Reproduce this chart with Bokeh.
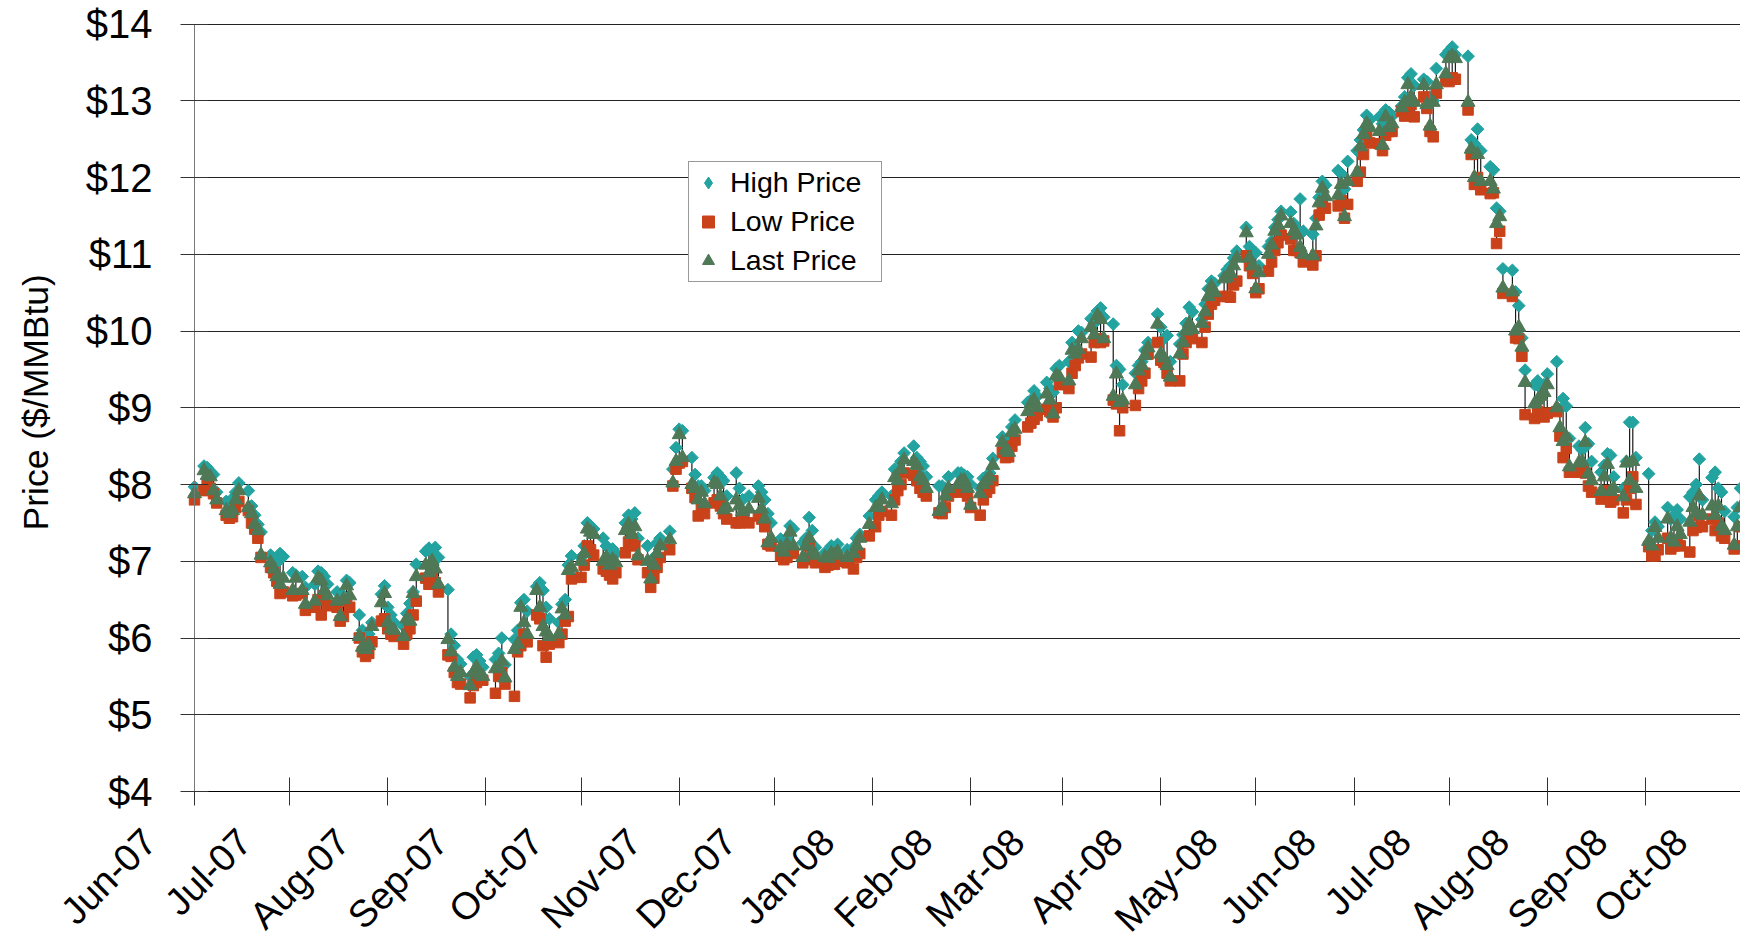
import math
import pandas as pd
from bokeh.plotting import figure
from bokeh.models import (Range1d, FixedTicker, PrintfTickFormatter, DatetimeTickFormatter,
                          Legend, LegendItem, ColumnDataSource, Title, Grid)
from bokeh.embed import file_html
from bokeh.resources import INLINE

# ---------------- data ----------------
holidays = ["2007-07-04", "2007-09-03", "2007-11-22", "2007-12-25", "2008-01-01", "2008-01-21",
            "2008-02-18", "2008-03-21", "2008-05-26", "2008-07-04", "2008-09-01"]
first_day = "2007-06-01"
last_day = "2008-10-01"
month_labels = ["Jun-07", "Jul-07", "Aug-07", "Sep-07", "Oct-07", "Nov-07", "Dec-07", "Jan-08", "Feb-08",
                "Mar-08", "Apr-08", "May-08", "Jun-08", "Jul-08", "Aug-08", "Sep-08", "Oct-08"]
price_ticks = [4, 5, 6, 7, 8, 9, 10, 11, 12, 13, 14]

high_price = [
    # Jun 2007
    7.97, 8.24, 8.22, 8.17, 8.13, 7.90, 7.78, 7.76, 7.82, 7.90, 8.02, 7.92, 7.72, 7.60, 7.48, 7.38, 7.08, 7.04, 6.98, 7.10, 7.06,
    # Jul 2007
    6.85, 6.82, 6.80, 6.66, 6.70, 6.87, 6.85, 6.80, 6.70, 6.60, 6.45, 6.55, 6.75, 6.72, 6.30, 6.10, 5.98, 6.05, 6.20, 6.57, 6.68,
    # Aug 2007
    6.40, 6.30, 6.20, 6.15, 6.32, 6.45, 6.60, 6.96, 7.13, 7.17, 7.12, 7.18, 7.05, 6.63, 6.05, 5.90, 5.72, 5.66, 5.50, 5.75, 5.78, 5.70, 5.62,
    # Sep 2007
    5.72, 5.80, 6.00, 5.65, 5.98, 6.10, 6.46, 6.50, 6.35, 6.67, 6.72, 6.62, 6.40, 6.25, 6.20, 6.44, 6.50, 6.95, 7.07,
    # Oct 2007
    7.05, 7.20, 7.50, 7.46, 7.42, 7.30, 7.20, 7.05, 7.16, 7.10, 7.50, 7.60, 7.55, 7.63, 7.30, 7.20, 6.98, 7.05, 7.24, 7.30, 7.39, 8.20, 8.48,
    # Nov 2007
    8.72, 8.70, 8.35, 8.13, 7.98, 7.98, 7.92, 8.09, 8.15, 8.10, 8.05, 7.85, 8.15, 7.95, 7.80, 7.85, 7.98, 7.90, 7.80, 7.62, 7.50,
    # Dec 2007
    7.29, 7.25, 7.30, 7.46, 7.42, 7.24, 7.30, 7.57, 7.40, 7.18, 7.11, 7.12, 7.20, 7.18, 7.22, 7.15, 7.18, 7.30, 7.35, 7.59,
    # Jan 2008
    7.80, 7.85, 7.90, 7.85, 8.20, 8.15, 8.30, 8.41, 8.50, 8.35, 8.30, 8.24, 8.10, 7.98, 7.98, 7.95, 8.10, 8.15, 8.15, 8.12, 8.10,
    # Feb 2008
    8.00, 7.95, 8.08, 8.10, 8.15, 8.34, 8.62, 8.55, 8.60, 8.75, 8.84, 9.07, 9.10, 9.22, 9.15, 9.33, 9.25, 9.20, 9.51, 9.55,
    # Mar 2008
    9.60, 9.85, 9.80, 10.00, 9.98, 10.16, 10.10, 10.26, 10.30, 10.18, 10.09, 9.55, 9.50, 9.30, 9.45, 9.55, 9.60, 9.75, 9.85, 10.22,
    # Apr 2008
    10.05, 9.90, 9.94, 9.60, 9.83, 9.95, 10.10, 10.31, 10.25, 10.15, 10.35, 10.55, 10.65, 10.62, 10.72, 10.80, 10.85, 10.95, 11.04, 11.35, 11.10, 11.00,
    # May 2008
    11.02, 10.85, 11.10, 11.17, 11.35, 11.45, 11.56, 11.55, 11.40, 11.32, 11.72, 11.30, 11.26, 11.47, 11.74, 11.95, 11.90, 12.09, 12.05, 11.85, 12.21,
    # Jun 2008
    12.35, 12.49, 12.62, 12.81, 12.75, 12.79, 12.70, 12.88, 12.85, 12.80, 12.93, 13.05, 13.30, 13.35, 13.20, 13.28, 13.25, 13.05, 13.00, 13.42, 13.60,
    # Jul 2008
    13.65, 13.70, 13.60, 13.58, 12.49, 12.44, 12.63, 12.35, 12.14, 12.10, 11.60, 11.56, 10.81, 10.79, 10.51, 10.33, 9.91, 9.49, 9.30, 9.35, 9.25, 9.30,
    # Aug 2008
    9.44, 9.60, 8.98, 9.12, 9.02, 8.60, 8.50, 8.45, 8.74, 8.53, 8.30, 8.16, 8.25, 8.40, 8.38, 8.10, 7.95, 8.30, 8.81, 8.81, 8.35,
    # Sep 2008
    8.14, 7.40, 7.51, 7.45, 7.70, 7.55, 7.60, 7.67, 7.55, 7.84, 7.90, 8.00, 8.33, 7.80, 8.09, 8.16, 7.95, 7.90, 7.65, 7.58, 7.70,
    # Oct 2008
    7.95,
]

low_price = [
    # Jun 2007
    7.80, 7.92, 8.00, 7.95, 7.88, 7.76, 7.60, 7.56, 7.58, 7.70, 7.78, 7.66, 7.50, 7.42, 7.30, 7.05, 6.92, 6.85, 6.74, 6.58, 6.60,
    # Jul 2007
    6.55, 6.56, 6.58, 6.36, 6.40, 6.50, 6.30, 6.55, 6.42, 6.40, 6.22, 6.28, 6.48, 6.40, 6.00, 5.82, 5.76, 5.80, 5.95, 6.22, 6.25,
    # Aug 2007
    6.12, 6.05, 6.02, 5.92, 6.05, 6.12, 6.30, 6.48, 6.78, 6.70, 6.80, 6.72, 6.60, 5.78, 5.76, 5.55, 5.42, 5.40, 5.22, 5.38, 5.42, 5.48, 5.45,
    # Sep 2007
    5.28, 5.50, 5.55, 5.40, 5.24, 5.82, 5.90, 6.05, 5.95, 6.30, 6.25, 5.90, 5.75, 5.92, 5.94, 6.05, 6.22, 6.28, 6.77,
    # Oct 2007
    6.79, 6.95, 7.20, 7.15, 7.08, 6.90, 6.87, 6.82, 6.77, 6.85, 7.11, 7.25, 7.29, 7.20, 7.02, 6.85, 6.66, 6.78, 6.92, 7.05, 7.15, 7.98, 8.20,
    # Nov 2007
    8.28, 8.30, 7.95, 7.83, 7.59, 7.70, 7.62, 7.76, 7.80, 7.72, 7.62, 7.55, 7.50, 7.50, 7.55, 7.50, 7.59, 7.55, 7.45, 7.22, 7.20,
    # Dec 2007
    7.07, 7.02, 7.05, 7.18, 7.10, 6.98, 7.02, 7.20, 7.05, 6.98, 6.92, 6.95, 6.98, 6.96, 7.00, 6.98, 6.90, 7.05, 7.10, 7.33,
    # Jan 2008
    7.45, 7.60, 7.65, 7.60, 7.80, 7.92, 8.00, 8.15, 8.12, 8.05, 7.95, 7.90, 7.85, 7.63, 7.62, 7.70, 7.85, 7.90, 7.92, 7.95, 7.85,
    # Feb 2008
    7.70, 7.60, 7.80, 7.90, 7.95, 8.05, 8.42, 8.35, 8.36, 8.50, 8.58, 8.75, 8.80, 8.85, 8.90, 8.98, 8.95, 8.88, 9.00, 9.30,
    # Mar 2008
    9.25, 9.45, 9.55, 9.65, 9.70, 9.66, 9.85, 9.90, 9.85, 9.87, 9.10, 9.05, 8.70, 9.00, 9.03, 9.25, 9.35, 9.45, 9.70, 9.85,
    # Apr 2008
    9.62, 9.59, 9.45, 9.35, 9.35, 9.70, 9.85, 9.95, 9.90, 9.85, 10.05, 10.22, 10.35, 10.40, 10.45, 10.45, 10.44, 10.60, 10.65, 10.98, 10.85, 10.75,
    # May 2008
    10.50, 10.55, 10.78, 10.90, 11.05, 11.15, 11.25, 11.20, 11.05, 11.05, 11.02, 10.90, 10.86, 10.98, 11.51, 11.63, 11.60, 11.63, 11.70, 11.47, 11.65,
    # Jun 2008
    11.95, 12.07, 12.30, 12.56, 12.45, 12.44, 12.35, 12.55, 12.60, 12.60, 12.86, 12.80, 12.88, 12.95, 12.79, 13.05, 12.90, 12.60, 12.53, 13.10, 13.26,
    # Jul 2008
    13.25, 13.30, 13.28, 12.88, 12.30, 11.91, 12.00, 11.84, 11.79, 11.80, 11.14, 11.30, 10.49, 10.45, 9.91, 9.90, 9.67, 8.91, 8.86, 8.95, 8.90, 8.88,
    # Aug 2008
    8.93, 8.95, 8.63, 8.35, 8.47, 8.16, 8.16, 8.18, 8.15, 7.98, 7.90, 7.81, 7.85, 7.92, 7.77, 7.80, 7.63, 7.80, 7.95, 8.10, 7.74,
    # Sep 2008
    7.19, 7.07, 7.07, 7.15, 7.30, 7.16, 7.20, 7.25, 7.20, 7.12, 7.40, 7.44, 7.60, 7.45, 7.55, 7.40, 7.50, 7.33, 7.30, 7.16, 7.20,
    # Oct 2008
    7.45,
]

last_price = [
    # Jun 2007
    7.88, 8.18, 8.12, 8.10, 7.92, 7.80, 7.66, 7.62, 7.66, 7.80, 7.92, 7.70, 7.62, 7.48, 7.40, 7.08, 6.98, 6.90, 6.80, 6.70, 6.78,
    # Jul 2007
    6.62, 6.78, 6.62, 6.44, 6.48, 6.78, 6.75, 6.62, 6.55, 6.48, 6.28, 6.50, 6.68, 6.55, 6.02, 5.88, 5.85, 5.90, 6.15, 6.46, 6.58,
    # Aug 2007
    6.20, 6.12, 6.10, 6.02, 6.25, 6.22, 6.58, 6.80, 6.95, 6.85, 7.00, 6.90, 6.70, 5.98, 5.82, 5.62, 5.50, 5.55, 5.38, 5.55, 5.62, 5.52, 5.50,
    # Sep 2007
    5.60, 5.62, 5.70, 5.48, 5.85, 5.92, 6.40, 6.20, 6.05, 6.62, 6.40, 6.15, 6.08, 6.02, 6.05, 6.38, 6.30, 6.88, 6.92,
    # Oct 2007
    7.00, 7.10, 7.42, 7.38, 7.35, 7.00, 7.05, 6.95, 7.02, 6.98, 7.40, 7.48, 7.35, 7.45, 7.07, 7.00, 6.77, 6.95, 7.10, 7.20, 7.28, 8.02, 8.30,
    # Nov 2007
    8.65, 8.35, 8.00, 7.95, 7.80, 7.90, 7.75, 8.02, 8.00, 7.85, 7.67, 7.70, 7.80, 7.72, 7.65, 7.68, 7.82, 7.68, 7.55, 7.24, 7.30,
    # Dec 2007
    7.18, 7.12, 7.22, 7.38, 7.20, 7.05, 7.20, 7.30, 7.12, 7.08, 7.05, 7.04, 7.10, 7.08, 7.12, 7.05, 7.10, 7.20, 7.30, 7.48,
    # Jan 2008
    7.70, 7.70, 7.80, 7.75, 8.09, 8.05, 8.20, 8.32, 8.30, 8.25, 8.10, 8.05, 7.95, 7.65, 7.70, 7.85, 7.95, 8.00, 8.05, 8.05, 7.95,
    # Feb 2008
    7.73, 7.88, 8.00, 8.05, 8.10, 8.25, 8.55, 8.45, 8.42, 8.68, 8.72, 8.95, 9.05, 9.10, 9.00, 9.18, 9.10, 8.92, 9.42, 9.40,
    # Mar 2008
    9.35, 9.75, 9.70, 9.76, 9.90, 10.05, 9.95, 10.20, 10.15, 9.90, 9.15, 9.44, 9.07, 9.10, 9.30, 9.48, 9.55, 9.68, 9.78, 10.09,
    # Apr 2008
    9.70, 9.65, 9.55, 9.40, 9.70, 9.85, 10.00, 10.10, 10.02, 10.10, 10.25, 10.45, 10.58, 10.50, 10.68, 10.70, 10.75, 10.85, 10.95, 11.28, 10.95, 10.85,
    # May 2008
    10.55, 10.76, 11.00, 11.12, 11.30, 11.38, 11.50, 11.40, 11.30, 11.25, 11.09, 11.00, 10.98, 11.37, 11.67, 11.86, 11.75, 11.77, 11.91, 11.49, 11.95,
    # Jun 2008
    12.07, 12.40, 12.56, 12.70, 12.65, 12.60, 12.42, 12.79, 12.65, 12.70, 12.91, 12.98, 13.21, 13.05, 12.98, 13.20, 12.95, 12.67, 12.98, 13.21, 13.35,
    # Jul 2008
    13.55, 13.58, 13.55, 12.98, 12.37, 12.00, 12.30, 11.95, 11.95, 11.85, 11.40, 11.49, 10.56, 10.51, 10.00, 10.05, 9.79, 9.33, 9.05, 9.10, 9.15, 9.20,
    # Aug 2008
    9.30, 9.00, 8.74, 8.56, 8.62, 8.23, 8.28, 8.30, 8.55, 8.14, 8.05, 7.91, 8.10, 8.26, 7.91, 7.95, 7.84, 8.28, 8.05, 8.30, 7.95,
    # Sep 2008
    7.26, 7.20, 7.44, 7.30, 7.55, 7.30, 7.25, 7.45, 7.35, 7.51, 7.70, 7.63, 7.85, 7.60, 7.72, 7.60, 7.72, 7.45, 7.40, 7.21, 7.45,
    # Oct 2008
    7.70,
]

# trading days (weekdays minus exchange holidays)
hol = set(pd.to_datetime(holidays))
trade_dates = [d for d in pd.bdate_range(first_day, last_day) if d not in hol]
n = min(len(trade_dates), len(high_price), len(low_price), len(last_price))
src = ColumnDataSource(dict(date=trade_dates[:n], high=high_price[:n], low=low_price[:n], last=last_price[:n]))

month_starts = list(pd.date_range(first_day, last_day, freq="MS"))
month_ms = [float(ts.timestamp() * 1000.0) for ts in month_starts]
PAD = "\u00a0" * 6
label_overrides = {ms: lab + PAD for ms, lab in zip(month_ms, month_labels)}

FONT = "Liberation Sans"
HI_C, LO_C, LA_C = "#22A3A0", "#C9421A", "#4F7856"
Y_MIN, Y_MAX = price_ticks[0], price_ticks[-1]

# ---------------- layout ----------------
# The frame covers the canvas (except a strip for the vertical title); both axes are pinned
# at ($4, Jun-07) so that their labels can sit outside the plotted area without clipping.
W, H = 1740, 947
TITLE_W = 60                      # left strip holding the y title
AXIS_X, AXIS_Y, TOP_Y = 194, 791, 23.5   # page pixels of the y axis, the $4 line, the $14 line
TITLE_BOTTOM = 530                # page y where the rotated y title starts
t0, t1 = pd.Timestamp(first_day), pd.Timestamp(last_day)
px_per_ms = (W - AXIS_X) / (t1 - t0).total_seconds() / 1000.0
x_start = t0 - pd.Timedelta(milliseconds=(AXIS_X - TITLE_W) / px_per_ms)
px_per_unit = (AXIS_Y - TOP_Y) / (Y_MAX - Y_MIN)
y_top = Y_MAX + TOP_Y / px_per_unit
y_low = Y_MIN - (H - AXIS_Y) / px_per_unit
x0_ms, x1_ms = month_ms[0], float(t1.timestamp() * 1000.0)

p = figure(width=W, height=H, x_axis_type="datetime",
           x_range=Range1d(x_start, t1), y_range=Range1d(y_low, y_top),
           output_backend="svg", toolbar_location=None,
           min_border_left=TITLE_W, min_border_right=0, min_border_top=0, min_border_bottom=0)
p.outline_line_color = None
p.background_fill_color = "white"
p.border_fill_color = "white"

# horizontal grid lines, only to the right of the y axis
ygrid = p.ygrid[0]
ygrid.ticker = FixedTicker(ticks=price_ticks)
ygrid.grid_line_color = "#222222"
ygrid.grid_line_width = 1
p.xgrid.grid_line_color = None
if "cross_bounds" in Grid.properties():
    ygrid.cross_bounds = (x0_ms, x1_ms)
else:
    ygrid.grid_line_color = None
    p.segment(x0=[t0] * len(price_ticks), y0=price_ticks, x1=[t1] * len(price_ticks), y1=price_ticks,
              line_color="#222222", line_width=1, level="underlay")

# high-low lines
p.segment(x0="date", y0="low", x1="date", y1="high", source=src, line_color="#1a1a1a", line_width=1.2)

r_hi = p.scatter("date", "high", source=src, marker="square", angle=math.pi / 4, size=9,
                 fill_color=HI_C, line_color=HI_C)
r_lo = p.scatter("date", "low", source=src, marker="square", size=10.5,
                 fill_color=LO_C, line_color=LO_C)
r_la = p.scatter("date", "last", source=src, marker="triangle", size=14,
                 fill_color=LA_C, line_color=LA_C)
# legend swatch for the high series (legend markers are drawn unrotated); not drawn in the plot
r_hi_key = p.scatter("date", "high", source=src, marker="diamond",
                     fill_color=HI_C, line_color=HI_C, visible=False)

# y axis pinned at Jun-07
yax = p.yaxis[0]
yax.fixed_location = x0_ms
yax.bounds = (Y_MIN, Y_MAX)
yax.ticker = FixedTicker(ticks=price_ticks)
yax.formatter = PrintfTickFormatter(format="$%d")
yax.major_tick_in = 14
yax.major_tick_out = 14
yax.minor_tick_line_color = None
yax.major_tick_line_color = "#333333"
yax.major_label_text_font = FONT
yax.major_label_text_color = "black"
yax.major_label_text_font_size = "40px"
yax.major_label_standoff = 28
yax.axis_line_color = "#7a7a7a"

p.add_layout(Title(text="Price ($/MMBtu)", align="left", offset=H - TITLE_BOTTOM,
                   text_font=FONT, text_font_size="35.5px", text_font_style="normal",
                   text_color="black"), "left")

# x axis pinned on the $4 line
xax = p.xaxis[0]
xax.fixed_location = Y_MIN
xax.bounds = (x0_ms, x1_ms)
xax.ticker = FixedTicker(ticks=month_ms)
fmt = "%b-%y"
xax.formatter = DatetimeTickFormatter(days=fmt, months=fmt, years=fmt, hours=fmt, hourmin=fmt,
                                      minutes=fmt, minsec=fmt, seconds=fmt, milliseconds=fmt,
                                      microseconds=fmt)
xax.major_label_overrides = label_overrides
xax.major_label_orientation = math.pi / 4
xax.major_label_standoff = -15
xax.major_tick_in = 14
xax.major_tick_out = 14
xax.minor_tick_line_color = None
xax.major_tick_line_color = "#333333"
xax.axis_line_color = "black"
xax.major_label_text_font = FONT
xax.major_label_text_color = "black"
xax.major_label_text_font_size = "38px"

legend = Legend(items=[LegendItem(label="High Price", renderers=[r_hi_key]),
                       LegendItem(label="Low Price", renderers=[r_lo]),
                       LegendItem(label="Last Price", renderers=[r_la])],
                location=(688 - TITLE_W, H - 282))
legend.label_text_font = FONT
legend.label_text_font_size = "28.5px"
legend.label_text_color = "black"
legend.border_line_color = "#333333"
legend.border_line_width = 1
legend.background_fill_color = "white"
legend.background_fill_alpha = 1.0
legend.inactive_fill_alpha = 0.0
legend.padding = 4
legend.spacing = 6
legend.margin = 0
legend.glyph_width = 30
legend.glyph_height = 33
legend.label_height = 33
legend.label_standoff = 7
legend.label_width = 147
p.add_layout(legend)

open("out.html", "w").write(file_html(p, INLINE))
